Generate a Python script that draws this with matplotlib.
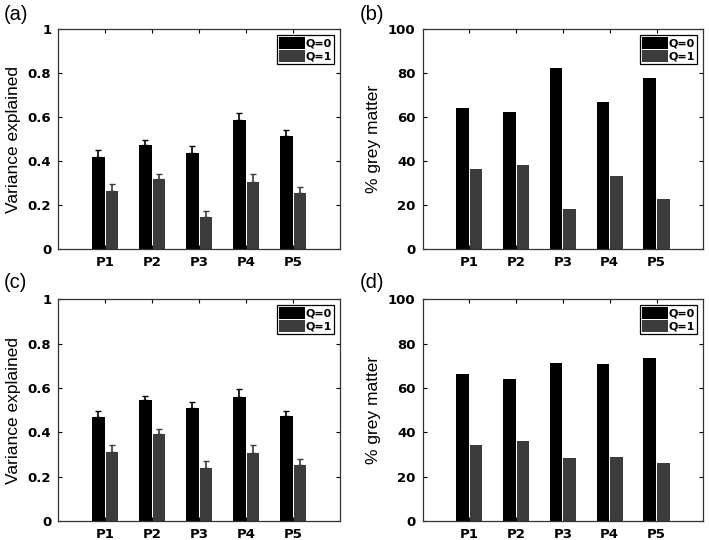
import matplotlib.pyplot as plt
import numpy as np

participants = ["P1", "P2", "P3", "P4", "P5"]
series_labels = ["Q=0", "Q=1"]

# (a) variance explained, with upper error
var_a_q0 = [0.42, 0.475, 0.437, 0.587, 0.516]
var_a_q1 = [0.265, 0.319, 0.144, 0.303, 0.253]
err_a_q0 = [0.028, 0.021, 0.030, 0.033, 0.026]
err_a_q1 = [0.032, 0.021, 0.028, 0.037, 0.028]

# (b) % grey matter
gm_b_q0 = [64.2, 62.5, 82.3, 66.8, 77.6]
gm_b_q1 = [36.2, 38.0, 18.0, 33.4, 22.7]

# (c) variance explained, with upper error
var_c_q0 = [0.471, 0.544, 0.509, 0.559, 0.474]
var_c_q1 = [0.311, 0.392, 0.239, 0.305, 0.251]
err_c_q0 = [0.027, 0.019, 0.028, 0.034, 0.021]
err_c_q1 = [0.033, 0.021, 0.031, 0.040, 0.028]

# (d) % grey matter
gm_d_q0 = [66.1, 64.0, 71.3, 70.9, 73.7]
gm_d_q1 = [34.1, 35.9, 28.4, 29.0, 26.4]

colors = ["#000000", "#3c3c3c"]
tick_font = dict(family="DejaVu Sans", weight="bold", size=9.5)


def draw_panel(ax, q0, q1, ylabel, ymax, yticks, err0=None, err1=None):
    x = np.arange(1, len(participants) + 1)
    w = 0.27
    for vals, err, off, c, lab in [(q0, err0, -0.145, colors[0], series_labels[0]),
                                   (q1, err1, 0.145, colors[1], series_labels[1])]:
        ax.bar(x + off, vals, width=w, color=c, label=lab, zorder=2)
        if err is not None:
            ax.errorbar(x + off, vals, yerr=[np.zeros(len(err)), err], fmt="none",
                        ecolor=c, elinewidth=1.2, capsize=2.5, capthick=1.0, zorder=3)
    ax.set_xlim(0, 6)
    ax.set_ylim(0, ymax)
    ax.set_xticks(x)
    ax.set_xticklabels(participants, fontdict=tick_font)
    ax.set_yticks(yticks)
    ax.set_yticklabels([("%g" % t) for t in yticks], fontdict=tick_font)
    ax.tick_params(direction="in", top=True, right=True, length=3, width=0.8, pad=5)
    for s in ax.spines.values():
        s.set_linewidth(0.9)
        s.set_color("#333333")
    ax.set_ylabel(ylabel, family="Liberation Sans", fontsize=12.5, labelpad=5)
    leg = ax.legend(loc="upper right", prop=dict(family="DejaVu Sans", weight="bold", size=8),
                    fancybox=False, edgecolor="black", framealpha=1, handlelength=2.3,
                    handleheight=1.2, handletextpad=0.1, borderpad=0.2, labelspacing=0.12,
                    borderaxespad=0.55)
    leg.get_frame().set_linewidth(0.9)


fig = plt.figure(figsize=(7.09, 5.40), dpi=100)
ax_a = fig.add_axes([0.082, 0.539, 0.398, 0.407])
ax_b = fig.add_axes([0.596, 0.539, 0.396, 0.407])
ax_c = fig.add_axes([0.082, 0.035, 0.398, 0.411])
ax_d = fig.add_axes([0.596, 0.035, 0.396, 0.411])

var_ticks = [0, 0.2, 0.4, 0.6, 0.8, 1]
gm_ticks = [0, 20, 40, 60, 80, 100]
draw_panel(ax_a, var_a_q0, var_a_q1, "Variance explained", 1, var_ticks, err_a_q0, err_a_q1)
draw_panel(ax_b, gm_b_q0, gm_b_q1, "% grey matter", 100, gm_ticks)
draw_panel(ax_c, var_c_q0, var_c_q1, "Variance explained", 1, var_ticks, err_c_q0, err_c_q1)
draw_panel(ax_d, gm_d_q0, gm_d_q1, "% grey matter", 100, gm_ticks)

for lab, (x, y) in zip(["(a)", "(b)", "(c)", "(d)"],
                       [(0.005, 0.99), (0.508, 0.99), (0.005, 0.495), (0.508, 0.495)]):
    fig.text(x, y, lab, family="Liberation Sans", fontsize=14.5, va="top", ha="left")

fig.savefig("out.png", dpi=100)
